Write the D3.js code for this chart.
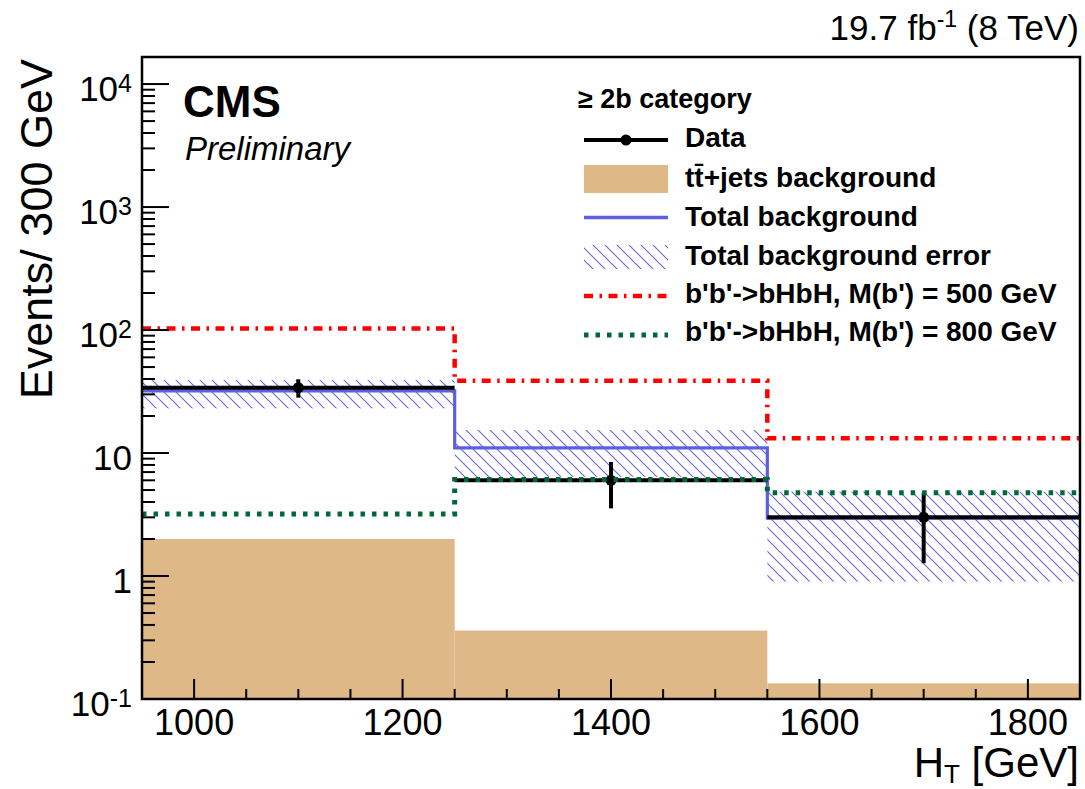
<!DOCTYPE html>
<html>
<head>
<meta charset="utf-8">
<script src="https://cdn.jsdelivr.net/npm/d3@7"></script>
<style>
  html, body { margin: 0; padding: 0; background: #fff; }
  svg { display: block; font-family: "Liberation Sans", Arial, Helvetica, sans-serif; }
</style>
</head>
<body>
<svg id="chart" width="1085" height="789"></svg>
<script>
// H_T distribution, >= 2b category, three 300 GeV bins
const binEdges = [950, 1250, 1550, 1850];
const dataCounts = [34, 6, 3];
const dataErrLow = [5.8, 2.45, 1.73];
const dataErrHigh = [5.8, 2.45, 1.73];
const ttjetsBkg = [2.0, 0.36, 0.134];
const totalBkg = [32, 11.0, 2.95];
const totalBkgLow = [23.1, 6.4, 0.9];
const totalBkgHigh = [39.2, 15.4, 4.85];
const sigM500 = [103, 38.7, 13.2];
const sigM800 = [3.2, 6.1, 4.75];

const xTickValues = [1000, 1200, 1400, 1600, 1800];
const xMinorStep = 50;
const yMajorTicks = [0.1, 1, 10, 100, 1000, 10000];
const yTickLabels = [["10", "-1"], ["1", null], ["10", null], ["10", "2"], ["10", "3"], ["10", "4"]];

const legendTitle = "≥ 2b category";
const legendLabels = ["Data", "tt̄+jets background", "Total background", "Total background error",
  "b'b'->bHbH, M(b') = 500 GeV", "b'b'->bHbH, M(b') = 800 GeV"];

const plot = { left: 142, right: 1080, top: 57, bottom: 699 };
const yMax = 16600;

const svg = d3.select("#chart");
const x = d3.scaleLinear().domain([binEdges[0], binEdges[binEdges.length - 1]]).range([plot.left, plot.right]);
const y = d3.scaleLog().domain([0.1, yMax]).range([plot.bottom, plot.top]);

const colors = {
  tt: "#deb887",
  blue: "#5e5ee0",
  hatch: "#6464e6",
  red: "#ff0000",
  green: "#006837"
};

// hatch pattern for the background uncertainty band
const defs = svg.append("defs");
const pat = defs.append("pattern")
  .attr("id", "hatch").attr("patternUnits", "userSpaceOnUse")
  .attr("width", 12).attr("height", 12);
pat.append("path")
  .attr("d", "M-3,-3 L15,15 M-3,9 L3,15 M9,-3 L15,3")
  .attr("stroke", colors.hatch).attr("stroke-width", 1.1).attr("fill", "none");

defs.append("clipPath").attr("id", "plotClip")
  .append("rect").attr("x", plot.left).attr("y", plot.top)
  .attr("width", plot.right - plot.left).attr("height", plot.bottom - plot.top);

const bins = dataCounts.map((d, i) => ({
  x0: binEdges[i], x1: binEdges[i + 1], xc: (binEdges[i] + binEdges[i + 1]) / 2,
  data: d, eLo: dataErrLow[i], eHi: dataErrHigh[i],
  tt: ttjetsBkg[i], bkg: totalBkg[i], bLo: totalBkgLow[i], bHi: totalBkgHigh[i],
  s500: sigM500[i], s800: sigM800[i]
}));

const g = svg.append("g").attr("clip-path", "url(#plotClip)");

// tt+jets filled histogram
g.selectAll("rect.tt").data(bins).join("rect").attr("class", "tt")
  .attr("x", d => x(d.x0)).attr("width", d => x(d.x1) - x(d.x0))
  .attr("y", d => y(d.tt)).attr("height", d => plot.bottom - y(d.tt))
  .attr("fill", colors.tt);

// total background uncertainty band
g.selectAll("rect.band").data(bins).join("rect").attr("class", "band")
  .attr("x", d => x(d.x0)).attr("width", d => x(d.x1) - x(d.x0))
  .attr("y", d => y(d.bHi)).attr("height", d => y(d.bLo) - y(d.bHi))
  .attr("fill", "url(#hatch)");

// step outline through a series of bin contents
function stepPath(key) {
  const pts = [];
  bins.forEach(b => { pts.push([x(b.x0), y(b[key])]); pts.push([x(b.x1), y(b[key])]); });
  return d3.line()(pts);
}

g.append("path").attr("d", stepPath("bkg"))
  .attr("fill", "none").attr("stroke", colors.blue).attr("stroke-width", 3.2);

// data: full-width horizontal bars, vertical error bars and markers
g.selectAll("line.dx").data(bins).join("line").attr("class", "dx")
  .attr("x1", d => x(d.x0)).attr("x2", d => x(d.x1))
  .attr("y1", d => y(d.data)).attr("y2", d => y(d.data))
  .attr("stroke", "#000").attr("stroke-width", 4);
g.selectAll("line.dy").data(bins).join("line").attr("class", "dy")
  .attr("x1", d => x(d.xc)).attr("x2", d => x(d.xc))
  .attr("y1", d => y(d.data + d.eHi)).attr("y2", d => y(d.data - d.eLo))
  .attr("stroke", "#000").attr("stroke-width", 4);
g.selectAll("circle.dm").data(bins).join("circle").attr("class", "dm")
  .attr("cx", d => x(d.xc)).attr("cy", d => y(d.data)).attr("r", 5.5).attr("fill", "#000");

// signal hypotheses
g.append("path").attr("d", stepPath("s500"))
  .attr("fill", "none").attr("stroke", colors.red).attr("stroke-width", 4.5)
  .attr("stroke-dasharray", "9,6.5,2.5,6.5");
g.append("path").attr("d", stepPath("s800"))
  .attr("fill", "none").attr("stroke", colors.green).attr("stroke-width", 5)
  .attr("stroke-dasharray", "4.5,7");

// axes: ticks drawn inward on the left and bottom edges
const axes = svg.append("g");
const yMinor = [];
for (let e = -1; e <= 4; e++) {
  for (let m = 2; m <= 9; m++) {
    const v = m * Math.pow(10, e);
    if (v < yMax) yMinor.push(v);
  }
}
axes.selectAll("line.ymin").data(yMinor).join("line")
  .attr("x1", plot.left).attr("x2", plot.left + 13)
  .attr("y1", d => y(d)).attr("y2", d => y(d))
  .attr("stroke", "#000").attr("stroke-width", 2);
axes.selectAll("line.ymaj").data(yMajorTicks).join("line")
  .attr("x1", plot.left).attr("x2", plot.left + 27)
  .attr("y1", d => y(d)).attr("y2", d => y(d))
  .attr("stroke", "#000").attr("stroke-width", 2);

const xMinor = d3.range(binEdges[0] + xMinorStep, binEdges[binEdges.length - 1], xMinorStep)
  .filter(v => !xTickValues.includes(v));
axes.selectAll("line.xmin").data(xMinor).join("line")
  .attr("x1", d => x(d)).attr("x2", d => x(d))
  .attr("y1", plot.bottom).attr("y2", plot.bottom - 10)
  .attr("stroke", "#000").attr("stroke-width", 2);
axes.selectAll("line.xmaj").data(xTickValues).join("line")
  .attr("x1", d => x(d)).attr("x2", d => x(d))
  .attr("y1", plot.bottom).attr("y2", plot.bottom - 20)
  .attr("stroke", "#000").attr("stroke-width", 2);

// frame
svg.append("rect").attr("x", plot.left).attr("y", plot.top)
  .attr("width", plot.right - plot.left).attr("height", plot.bottom - plot.top)
  .attr("fill", "none").attr("stroke", "#000").attr("stroke-width", 2.5);

// x tick labels
svg.selectAll("text.xl").data(xTickValues).join("text").attr("class", "xl")
  .attr("x", d => x(d)).attr("y", 735).attr("text-anchor", "middle")
  .attr("font-size", 36).text(d => d);

// y tick labels with superscript exponents
yMajorTicks.forEach((v, i) => {
  const [base, exp] = yTickLabels[i];
  const t = svg.append("text").attr("x", 132).attr("y", y(v) + 17)
    .attr("text-anchor", "end").attr("font-size", 35);
  t.append("tspan").text(base);
  if (exp) t.append("tspan").attr("font-size", 25).attr("dy", -9).text(exp);
});

// axis titles
svg.append("text").attr("transform", `translate(52,${plot.top + 2}) rotate(-90)`)
  .attr("text-anchor", "end").attr("font-size", 45).text("Events/ 300 GeV");

const xt = svg.append("text").attr("x", 1079).attr("y", 777)
  .attr("text-anchor", "end").attr("font-size", 42);
xt.append("tspan").text("H");
xt.append("tspan").attr("font-size", 26).attr("dy", 6).text("T");
xt.append("tspan").attr("dy", -6).text(" [GeV]");

// luminosity label
const lumi = svg.append("text").attr("x", 1079).attr("y", 40)
  .attr("text-anchor", "end").attr("font-size", 35);
lumi.append("tspan").text("19.7 fb");
lumi.append("tspan").attr("font-size", 23).attr("dy", -13).text("-1");
lumi.append("tspan").attr("dy", 13).text(" (8 TeV)");

// CMS label
svg.append("text").attr("x", 183).attr("y", 117).attr("font-size", 44)
  .attr("font-weight", "bold").text("CMS");
svg.append("text").attr("x", 185).attr("y", 160).attr("font-size", 33)
  .attr("font-style", "italic").text("Preliminary");

// legend
const leg = svg.append("g");
const lx0 = 584, lx1 = 668, ltx = 685;
const rowBase = [147, 186.5, 226, 264.5, 303, 341];
leg.append("text").attr("x", 578).attr("y", 108).attr("font-size", 27)
  .attr("font-weight", "bold").text(legendTitle);
legendLabels.forEach((lab, i) => {
  leg.append("text").attr("x", ltx).attr("y", rowBase[i]).attr("font-size", 28)
    .attr("font-weight", "bold").text(lab);
});
const rowMid = [140, 179, 217.5, 257, 296, 335];
leg.append("line").attr("x1", lx0).attr("x2", lx1).attr("y1", rowMid[0]).attr("y2", rowMid[0])
  .attr("stroke", "#000").attr("stroke-width", 4);
leg.append("circle").attr("cx", (lx0 + lx1) / 2).attr("cy", rowMid[0]).attr("r", 5.5).attr("fill", "#000");
leg.append("rect").attr("x", lx0).attr("y", rowMid[1] - 14).attr("width", lx1 - lx0).attr("height", 28)
  .attr("fill", colors.tt);
leg.append("line").attr("x1", lx0).attr("x2", lx1).attr("y1", rowMid[2]).attr("y2", rowMid[2])
  .attr("stroke", colors.blue).attr("stroke-width", 3.5);
leg.append("rect").attr("x", lx0).attr("y", rowMid[3] - 12).attr("width", lx1 - lx0).attr("height", 24)
  .attr("fill", "url(#hatch)");
leg.append("line").attr("x1", lx0).attr("x2", lx1).attr("y1", rowMid[4]).attr("y2", rowMid[4])
  .attr("stroke", colors.red).attr("stroke-width", 4.5).attr("stroke-dasharray", "9,6.5,2.5,6.5");
leg.append("line").attr("x1", lx0).attr("x2", lx1).attr("y1", rowMid[5]).attr("y2", rowMid[5])
  .attr("stroke", colors.green).attr("stroke-width", 5).attr("stroke-dasharray", "4.5,7");
</script>
</body>
</html>
